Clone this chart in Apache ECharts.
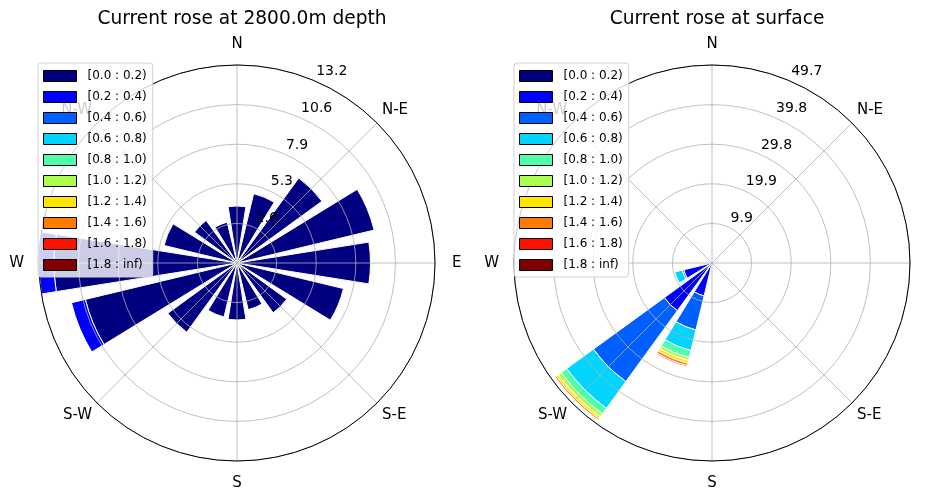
<!DOCTYPE html>
<html>
<head>
<meta charset="utf-8">
<script src="https://cdn.jsdelivr.net/npm/echarts@6/dist/echarts.min.js"></script>
<style>html,body{margin:0;padding:0;background:#fff}#c{width:927px;height:489px}</style>
</head>
<body>
<div id="c"></div>
<script>
// ---- data ----
const sectors = ['N','NNE','NE','ENE','E','ESE','SE','SSE','S','SSW','SW','WSW','W','WNW','NW','NNW'];
const compassLabels = ['N','N-E','E','S-E','S','S-W','W','N-W'];
const binLabels = ['[0.0 : 0.2)','[0.2 : 0.4)','[0.4 : 0.6)','[0.6 : 0.8)','[0.8 : 1.0)','[1.0 : 1.2)','[1.2 : 1.4)','[1.4 : 1.6)','[1.6 : 1.8)','[1.8 : inf)'];
const binColors = ['#000080','#0000ff','#0060ff','#00d4ff','#4dffaa','#aaff4d','#ffe600','#ff7a00','#ff1300','#800000'];

const deepTitle = 'Current rose at 2800.0m depth';
const deepMax = 13.2;
const deepTicks = ['2.6','5.3','7.9','10.6','13.2'];
//             N    NNE   NE   ENE  E    ESE  SE   SSE  S    SSW  SW   WSW   W     WNW  NW   NNW
const deepB0 = [3.8, 4.75, 7.0, 9.4, 8.9, 7.3, 4.1, 3.2, 3.8, 3.7, 5.7, 10.4, 12.2, 5.0, 3.5, 2.8];
const deepB1 = [0,   0,    0,   0,   0,   0,   0,   0,   0,   0,   0,   0.95, 1.0,  0,   0,   0];
const deepB2 = [0,0,0,0,0,0,0,0,0,0,0,0,0,0,0,0];
const deepB3 = [0,0,0,0,0,0,0,0,0,0,0,0,0,0,0,0];
const deepB4 = [0,0,0,0,0,0,0,0,0,0,0,0,0,0,0,0];
const deepB5 = [0,0,0,0,0,0,0,0,0,0,0,0,0,0,0,0];
const deepB6 = [0,0,0,0,0,0,0,0,0,0,0,0,0,0,0,0];
const deepB7 = [0,0,0,0,0,0,0,0,0,0,0,0,0,0,0,0];
const deepB8 = [0,0,0,0,0,0,0,0,0,0,0,0,0,0,0,0];
const deepB9 = [0,0,0,0,0,0,0,0,0,0,0,0,0,0,0,0];

const surfTitle = 'Current rose at surface';
const surfMax = 49.7;
const surfTicks = ['9.9','19.9','29.8','39.8','49.7'];
//             N  NNE NE ENE E ESE SE SSE S  SSW  SW    WSW  W  WNW NW NNW
const surfB0 = [0, 0, 0, 0, 0, 0, 0, 0, 0, 0.3, 0.3,  0.3, 0, 0, 0, 0];
const surfB1 = [0, 0, 0, 0, 0, 0, 0, 0, 0, 8.2, 14.5, 7.0, 0, 0, 0, 0];
const surfB2 = [0, 0, 0, 0, 0, 0, 0, 0, 0, 8.8, 22.0, 0.4, 0, 0, 0, 0];
const surfB3 = [0, 0, 0, 0, 0, 0, 0, 0, 0, 5.3, 8.3,  1.9, 0, 0, 0, 0];
const surfB4 = [0, 0, 0, 0, 0, 0, 0, 0, 0, 1.8, 1.7,  0,   0, 0, 0, 0];
const surfB5 = [0, 0, 0, 0, 0, 0, 0, 0, 0, 0.8, 0.9,  0,   0, 0, 0, 0];
const surfB6 = [0, 0, 0, 0, 0, 0, 0, 0, 0, 0.7, 0.6,  0,   0, 0, 0, 0];
const surfB7 = [0, 0, 0, 0, 0, 0, 0, 0, 0, 0.6, 0.4,  0,   0, 0, 0, 0];
const surfB8 = [0, 0, 0, 0, 0, 0, 0, 0, 0, 0.3, 0,    0,   0, 0, 0, 0];
const surfB9 = [0,0,0,0,0,0,0,0,0,0,0,0,0,0,0,0];

// ---- build ----
const FONT = 'DejaVu Sans';
const deepBins = [deepB0,deepB1,deepB2,deepB3,deepB4,deepB5,deepB6,deepB7,deepB8,deepB9];
const surfBins = [surfB0,surfB1,surfB2,surfB3,surfB4,surfB5,surfB6,surfB7,surfB8,surfB9];
const charts = [
  {cx: 237, title: deepTitle, max: deepMax, ticks: deepTicks, bins: deepBins, legendLeft: 38},
  {cx: 712, title: surfTitle, max: surfMax, ticks: surfTicks, bins: surfBins, legendLeft: 514}
];
const CY = 263, R = 198;
const richKeys = ['n','d','e','d','s','d','w','d'];
const rich = {
  n: {fontFamily: FONT, fontSize: 15, color: '#000', padding: [0,0,6,0]},
  s: {fontFamily: FONT, fontSize: 15, color: '#000', padding: [8,0,0,0]},
  e: {fontFamily: FONT, fontSize: 15, color: '#000', padding: [0,0,0,10]},
  w: {fontFamily: FONT, fontSize: 15, color: '#000', padding: [0,8,0,0]},
  d: {fontFamily: FONT, fontSize: 15, color: '#000'}
};

const option = {
  animation: false,
  backgroundColor: '#fff',
  title: [], polar: [], angleAxis: [], radiusAxis: [], legend: [], series: []
};

charts.forEach((c, ci) => {
  const base = ci * 3;
  option.title.push({
    text: c.title, left: c.cx, top: 5, textAlign: 'center',
    textStyle: {fontFamily: FONT, fontSize: 18.6, fontWeight: 'normal', color: '#000'}
  });
  // A: bars
  option.polar.push({center: [c.cx, CY], radius: R});
  option.angleAxis.push({polarIndex: base, type: 'category', data: sectors, startAngle: 101.25, clockwise: true, show: false});
  option.radiusAxis.push({polarIndex: base, type: 'value', min: 0, max: c.max, show: false});
  // B: grid
  option.polar.push({center: [c.cx, CY], radius: R});
  option.angleAxis.push({
    polarIndex: base + 1, type: 'value', min: 0, max: 360, interval: 45, startAngle: 90, clockwise: true, z: 6,
    axisLine: {show: true, lineStyle: {color: '#000', width: 1}},
    axisTick: {show: false},
    axisLabel: {show: true, margin: 7, fontFamily: FONT, fontSize: 15, color: '#000', rich: rich,
      formatter: v => { const i = Math.round(v / 45); return i < 8 ? '{' + richKeys[i] + '|' + compassLabels[i] + '}' : ''; }},
    splitLine: {show: true, lineStyle: {color: '#b0b0b0', width: 0.8}}
  });
  option.radiusAxis.push({
    polarIndex: base + 1, type: 'value', min: 0, max: c.max, interval: c.max / 5, z: 5,
    axisLine: {show: false}, axisTick: {show: false}, axisLabel: {show: false},
    splitLine: {show: true, lineStyle: {color: '#b0b0b0', width: 0.8}}
  });
  // C: radial labels
  option.polar.push({center: [c.cx, CY], radius: [9, R + 9]});
  option.angleAxis.push({polarIndex: base + 2, type: 'value', min: 0, max: 360, startAngle: 67.5, show: false});
  option.radiusAxis.push({
    polarIndex: base + 2, type: 'value', min: 0, max: c.max, interval: c.max / 5, z: 7,
    axisLine: {show: false}, axisTick: {show: false}, splitLine: {show: false},
    axisLabel: {show: true, margin: 0, align: 'left', verticalAlign: 'middle', fontFamily: FONT, fontSize: 14, color: '#000',
      formatter: (v, idx) => idx > 0 ? (c.ticks[idx - 1] || '') : ''}
  });
  option.legend.push({
    data: binLabels, orient: 'vertical', left: c.legendLeft, top: 63, z: 10,
    icon: 'rect', itemWidth: 33, itemHeight: 11, itemGap: 9,
    itemStyle: {borderColor: '#000', borderWidth: 1},
    textStyle: {fontFamily: FONT, fontSize: 12, color: '#000', lineHeight: 12, padding: [0,0,0,6]},
    backgroundColor: 'rgba(255,255,255,0.8)', borderColor: '#d0d0d0', borderWidth: 1, borderRadius: 3,
    padding: [7, 6, 6, 5], selectedMode: false
  });
  c.bins.forEach((arr, bi) => {
    option.series.push({
      type: 'bar', coordinateSystem: 'polar', polarIndex: base, name: binLabels[bi],
      stack: 'rose' + ci, barCategoryGap: '20%', z: 2, silent: true,
      itemStyle: {color: binColors[bi], borderColor: '#fff', borderWidth: 1},
      data: arr.map(v => v === 0 ? null : v)
    });
  });
});

const chart = echarts.init(document.getElementById('c'), null, {renderer: 'canvas'});
chart.setOption(option);
</script>
</body>
</html>
